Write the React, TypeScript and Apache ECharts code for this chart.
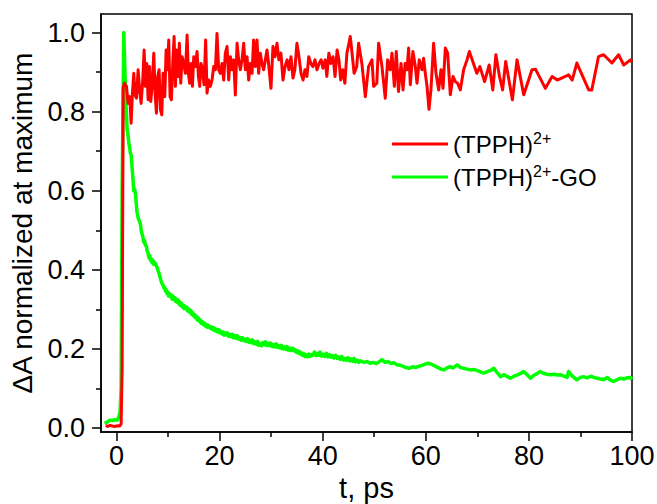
import React, { useEffect, useRef } from "react";
import * as echarts from "echarts";

const xMajorTicks = [0, 20, 40, 60, 80, 100];
const xMinorTicks = [10, 30, 50, 70, 90];
const yMajorTicks = [0, 0.2, 0.4, 0.6, 0.8, 1.0];
const yMinorTicks = [0.1, 0.3, 0.5, 0.7, 0.9];

const seriesNames = ["(TPPH)2+", "(TPPH)2+-GO"];

// (TPPH)2+ : [t (ps), normalized ΔA]
const redData = [
  [-2.1, 0.006], [-1.7, 0.004], [-1.2, 0.007], [-0.8, 0.005], [-0.3, 0.004], [0.2, 0.006], [0.6, 0.005], [0.9, 0.01], [1.1, 0.15], [1.3, 0.86],
  [1.55, 0.872], [1.94, 0.864], [2.26, 0.821], [2.58, 0.838], [2.84, 0.771], [3.1, 0.847], [3.36, 0.897], [3.62, 0.842], [3.88, 0.834], [4.2, 0.906],
  [4.52, 0.851], [4.78, 0.821], [5.1, 0.88], [5.36, 0.956], [5.62, 0.864], [5.88, 0.922], [6.14, 0.83], [6.4, 0.914], [6.65, 0.826], [6.91, 0.864],
  [7.24, 0.948], [7.49, 0.847], [7.75, 0.796], [8.0, 0.889], [8.27, 0.906], [8.53, 0.805], [8.79, 0.792], [9.04, 0.897], [9.37, 0.838], [9.63, 0.956],
  [9.88, 0.906], [10.14, 0.981], [10.4, 0.838], [10.66, 0.83], [10.92, 0.922], [11.18, 0.99], [11.43, 0.864], [11.69, 0.956], [11.95, 0.889], [12.2, 0.973],
  [12.47, 0.872], [12.73, 0.939], [13.05, 0.922], [13.37, 0.897], [13.7, 0.994], [13.95, 0.897], [14.2, 0.872], [14.47, 0.922], [14.73, 0.864], [14.99, 0.939],
  [15.3, 0.914], [15.63, 0.952], [15.9, 0.889], [16.15, 0.864], [16.4, 0.922], [16.67, 0.906], [16.99, 0.868], [17.3, 0.981], [17.57, 0.847], [17.9, 0.88],
  [18.2, 0.864], [18.54, 0.88], [18.86, 0.914], [19.19, 0.906], [19.5, 0.998], [19.83, 0.906], [20.15, 0.897], [20.48, 0.922], [20.8, 0.88], [21.12, 0.948],
  [21.45, 0.965], [21.77, 0.88], [22.1, 0.939], [22.42, 0.906], [22.74, 0.931], [23.06, 0.842], [23.39, 0.973], [23.7, 0.931], [24.03, 0.906], [24.35, 0.931],
  [24.68, 0.973], [25.0, 0.906], [25.32, 0.939], [25.65, 0.88], [25.97, 0.922], [26.3, 0.897], [26.6, 0.981], [26.94, 0.914], [27.26, 0.981], [27.58, 0.897],
  [27.9, 0.948], [28.23, 0.922], [28.55, 0.906], [28.88, 0.931], [29.2, 0.956], [29.5, 0.922], [29.97, 0.859], [30.36, 0.965], [30.75, 0.939], [31.14, 0.973],
  [31.5, 0.931], [31.9, 0.948], [32.3, 0.88], [32.7, 0.914], [33.1, 0.931], [33.46, 0.906], [33.85, 0.939], [34.24, 0.885], [34.6, 0.906], [35.0, 0.973],
  [35.4, 0.939], [35.8, 0.897], [36.2, 0.88], [36.56, 0.906], [36.95, 0.889], [37.3, 0.939], [37.7, 0.922], [38.1, 0.914], [38.5, 0.931], [38.9, 0.906],
  [39.3, 0.922], [39.7, 0.931], [40.05, 0.91], [40.5, 0.931], [40.8, 0.889], [41.2, 0.948], [41.6, 0.922], [42.0, 0.939], [42.4, 0.889], [42.8, 0.956],
  [43.15, 0.931], [43.5, 0.88], [43.9, 0.906], [44.3, 0.872], [44.7, 0.948], [45.1, 0.973], [45.35, 0.99], [45.7, 0.948], [46.1, 0.897], [46.6, 0.914],
  [46.97, 0.973], [47.6, 0.922], [48.27, 0.838], [48.9, 0.914], [49.56, 0.931], [49.88, 0.864], [50.5, 0.872], [50.85, 0.973], [51.5, 0.914], [52.14, 0.834],
  [52.6, 0.931], [53.1, 0.906], [53.44, 0.948], [53.9, 0.864], [54.28, 0.952], [54.7, 0.851], [55.2, 0.922], [55.58, 0.855], [56.0, 0.922], [56.36, 0.906],
  [56.67, 0.961], [57.0, 0.868], [57.5, 0.952], [57.97, 0.914], [58.3, 0.872], [58.74, 0.931], [59.26, 0.906], [59.58, 0.935], [59.9, 0.897], [60.24, 0.864],
  [60.62, 0.806], [61.0, 0.855], [61.52, 0.973], [61.98, 0.897], [62.5, 0.855], [62.95, 0.906], [63.34, 0.859], [63.79, 0.961], [64.24, 0.948], [64.76, 0.843],
  [65.28, 0.889], [65.73, 0.876], [66.18, 0.872], [66.7, 0.855], [67.34, 0.906], [68.0, 0.931], [68.45, 0.952],
  [69.9, 0.897], [70.5, 0.914], [71.4, 0.876], [72.3, 0.918], [73.0, 0.855], [73.6, 0.944], [74.3, 0.889], [74.9, 0.855], [75.5, 0.927], [76.8, 0.83],
  [77.7, 0.931], [79.0, 0.843], [80.6, 0.906], [81.3, 0.907], [83.2, 0.859], [84.5, 0.889], [85.5, 0.88], [87.7, 0.893], [88.4, 0.88], [89.3, 0.923],
  [91.6, 0.855], [92.2, 0.855], [93.5, 0.939], [94.5, 0.944], [96.1, 0.923], [97.4, 0.944], [98.4, 0.918], [99.7, 0.931], [100, 0.925],
];

// (TPPH)2+-GO : [t (ps), normalized ΔA]
const greenData = [
  [-2.3, 0.012], [-1.8, 0.015], [-1.3, 0.02], [-0.8, 0.019], [-0.3, 0.021], [0.2, 0.02], [0.5, 0.03], [0.7, 0.04], [0.9, 0.1], [1.1, 0.6],
  [1.42, 1.0], [1.6, 0.92], [1.75, 0.86], [1.9, 0.8], [2.07, 0.755], [2.25, 0.74], [2.4, 0.72], [2.55, 0.71], [2.7, 0.695], [2.85, 0.69],
  [3.0, 0.665], [3.2, 0.63], [3.36, 0.6], [3.5, 0.605], [3.7, 0.592], [3.85, 0.565], [4.0, 0.545], [4.15, 0.535], [4.3, 0.528], [4.5, 0.522],
  [4.65, 0.515], [4.8, 0.5], [4.97, 0.49], [5.15, 0.482], [5.3, 0.47], [5.45, 0.474], [5.6, 0.462], [5.8, 0.46], [5.94, 0.448], [6.1, 0.444],
  [6.3, 0.43], [6.45, 0.436], [6.6, 0.424], [6.75, 0.428], [6.9, 0.418], [7.05, 0.424], [7.2, 0.414], [7.35, 0.42], [7.5, 0.416], [7.7, 0.41],
  [7.9, 0.406], [8.05, 0.398], [8.2, 0.394], [8.35, 0.386], [8.5, 0.38], [8.65, 0.372], [8.8, 0.366], [9.0, 0.362], [9.2, 0.354], [9.35, 0.356],
  [9.5, 0.346], [9.65, 0.35], [9.8, 0.34], [9.95, 0.344], [10.1, 0.334], [10.3, 0.34], [10.5, 0.332], [10.65, 0.336], [10.8, 0.326], [10.95, 0.334],
  [11.1, 0.325], [11.3, 0.33], [11.5, 0.32], [11.65, 0.326], [11.8, 0.318], [11.95, 0.324], [12.1, 0.314], [12.3, 0.319], [12.4, 0.31], [12.6, 0.316],
  [12.8, 0.306], [12.95, 0.311], [13.1, 0.302], [13.3, 0.308], [13.5, 0.301], [13.65, 0.306], [13.8, 0.296], [14.0, 0.301], [14.2, 0.293], [14.4, 0.298],
  [14.6, 0.287], [14.8, 0.292], [15.0, 0.283], [15.15, 0.287], [15.3, 0.279], [15.5, 0.283], [15.7, 0.273], [15.85, 0.279], [16.0, 0.271], [16.2, 0.274],
  [16.4, 0.265], [16.6, 0.27], [16.8, 0.262], [17.0, 0.266], [17.2, 0.258], [17.4, 0.262], [17.6, 0.255], [17.8, 0.26], [18.0, 0.256], [18.2, 0.252],
  [18.4, 0.256], [18.65, 0.249], [18.9, 0.254], [19.1, 0.246], [19.3, 0.25], [19.55, 0.244], [19.8, 0.249], [20.0, 0.241], [20.2, 0.245], [20.45, 0.238],
  [20.7, 0.243], [20.9, 0.235], [21.1, 0.24], [21.3, 0.236], [21.5, 0.241], [21.75, 0.232], [22.0, 0.237], [22.25, 0.231], [22.5, 0.237], [22.7, 0.228],
  [22.9, 0.233], [23.15, 0.227], [23.4, 0.234], [23.65, 0.225], [23.9, 0.229], [24.15, 0.222], [24.4, 0.229], [24.65, 0.221], [24.9, 0.225], [25.15, 0.219],
  [25.4, 0.226], [25.65, 0.217], [25.9, 0.222], [26.15, 0.216], [26.4, 0.223], [26.65, 0.213], [26.9, 0.218], [27.15, 0.212], [27.4, 0.219], [27.65, 0.209],
  [27.9, 0.213], [28.15, 0.208], [28.4, 0.216], [28.65, 0.211], [28.9, 0.218], [29.15, 0.209], [29.4, 0.214], [29.65, 0.208], [29.9, 0.215], [30.2, 0.206],
  [30.5, 0.211], [30.75, 0.205], [31.0, 0.213], [31.25, 0.204], [31.5, 0.208], [31.75, 0.202], [32.0, 0.209], [32.3, 0.2], [32.6, 0.205], [32.85, 0.199],
  [33.1, 0.206], [33.35, 0.197], [33.6, 0.202], [33.9, 0.196], [34.2, 0.202], [34.45, 0.195], [34.7, 0.198], [34.95, 0.191], [35.2, 0.195], [35.45, 0.188],
  [35.7, 0.192], [36.0, 0.184], [36.3, 0.189], [36.55, 0.181], [36.8, 0.185], [37.05, 0.18], [37.3, 0.187], [37.55, 0.181], [37.8, 0.186], [38.1, 0.184],
  [38.4, 0.192], [38.7, 0.183], [39.0, 0.189], [39.25, 0.184], [39.5, 0.192], [39.8, 0.182], [40.1, 0.187], [40.4, 0.181], [40.7, 0.189], [41.0, 0.18],
  [41.3, 0.186], [41.6, 0.179], [41.9, 0.183], [42.2, 0.177], [42.5, 0.184], [42.8, 0.176], [43.1, 0.18], [43.4, 0.174], [43.7, 0.181], [44.0, 0.172],
  [44.3, 0.176], [44.6, 0.171], [44.9, 0.178], [45.2, 0.17], [45.5, 0.175], [45.8, 0.169], [46.1, 0.176], [46.4, 0.167], [46.7, 0.172], [47.0, 0.166],
  [47.3, 0.17], [48.0, 0.166], [48.6, 0.168], [49.2, 0.164], [49.8, 0.166], [50.4, 0.163], [51.0, 0.168], [51.5, 0.173], [52.1, 0.166], [52.7, 0.168],
  [53.3, 0.163], [53.8, 0.165], [54.4, 0.16], [55.0, 0.159], [55.6, 0.156], [56.2, 0.153], [56.8, 0.151], [57.4, 0.155], [58.0, 0.153], [58.6, 0.156],
  [59.2, 0.158], [59.8, 0.161], [60.4, 0.164], [61.0, 0.162], [61.6, 0.158], [62.2, 0.154], [62.8, 0.15], [63.5, 0.147], [64.1, 0.152], [64.7, 0.155],
  [65.3, 0.152], [66.1, 0.16], [66.7, 0.153], [67.4, 0.151], [68.0, 0.149], [68.7, 0.147], [69.4, 0.148], [70.0, 0.145], [70.6, 0.142], [71.2, 0.139],
  [71.8, 0.142], [72.5, 0.145], [73.2, 0.151], [73.8, 0.141], [74.5, 0.13], [75.2, 0.135], [75.8, 0.13], [76.4, 0.126], [77.1, 0.131], [77.7, 0.134],
  [78.4, 0.138], [79.0, 0.143], [79.7, 0.134], [80.3, 0.126], [80.9, 0.133], [81.5, 0.137], [82.2, 0.143], [82.9, 0.138], [83.5, 0.136], [84.2, 0.135],
  [84.9, 0.136], [85.5, 0.134], [86.1, 0.135], [86.8, 0.131], [87.4, 0.128], [87.7, 0.143], [88.3, 0.133], [89.3, 0.122], [90.0, 0.128], [90.6, 0.13],
  [91.3, 0.127], [92.0, 0.131], [92.6, 0.128], [93.2, 0.126], [93.9, 0.124], [94.5, 0.122], [95.2, 0.128], [95.8, 0.121], [96.4, 0.118], [97.1, 0.122],
  [97.7, 0.126], [98.4, 0.124], [99.0, 0.127], [99.7, 0.128], [100, 0.123],
];

const FONT = "'Liberation Sans', Arial, sans-serif";

export default function App() {
  const ref = useRef<HTMLDivElement>(null);
  useEffect(() => {
    if (!ref.current) return;
    const chart = echarts.init(ref.current, undefined, { renderer: "svg" });
    const axisLineStyle = { color: "#000", width: 1.5 };
    chart.setOption({
      animation: false,
      backgroundColor: "#fff",
      textStyle: { fontFamily: FONT },
      grid: {
        left: 101,
        right: 25,
        top: 14,
        bottom: 72,
        show: true,
        borderColor: "#000",
        borderWidth: 1.5,
        backgroundColor: "transparent",
        containLabel: false,
        outerBoundsMode: "none",
      },
      legend: {
        orient: "vertical",
        left: 392,
        top: 130,
        padding: 0,
        itemGap: 5,
        itemWidth: 56,
        itemHeight: 3,
        icon: "rect",
        data: seriesNames,
        formatter: (name: string) => name.replace("2+", "{sup|2+}"),
        textStyle: {
          fontFamily: FONT,
          fontSize: 24,
          color: "#000",
          lineHeight: 28,
          rich: {
            sup: { fontFamily: FONT, fontSize: 16, color: "#000", verticalAlign: "top", lineHeight: 17 },
          },
        },
      },
      xAxis: [
        {
          type: "value",
          min: -3,
          max: 100,
          position: "bottom",
          name: "t, ps",
          nameLocation: "middle",
          nameGap: 40,
          nameTextStyle: { fontFamily: FONT, fontSize: 29, color: "#000" },
          axisLine: { show: true, onZero: false, lineStyle: axisLineStyle },
          axisTick: { show: true, inside: false, length: 9, customValues: xMajorTicks, lineStyle: axisLineStyle },
          axisLabel: { show: true, customValues: xMajorTicks, fontFamily: FONT, fontSize: 27, color: "#000", margin: 10 },
          splitLine: { show: false },
        },
        {
          type: "value",
          min: -3,
          max: 100,
          position: "bottom",
          axisLine: { show: false, onZero: false },
          axisTick: { show: true, inside: false, length: 5, customValues: xMinorTicks, lineStyle: axisLineStyle },
          axisLabel: { show: false },
          splitLine: { show: false },
        },
      ],
      yAxis: [
        {
          type: "value",
          min: -0.01,
          max: 1.047,
          position: "left",
          name: "\u0394A normalized at maximum",
          nameLocation: "middle",
          nameGap: 62,
          nameTextStyle: { fontFamily: FONT, fontSize: 28, color: "#000" },
          axisLine: { show: true, onZero: false, lineStyle: axisLineStyle },
          axisTick: { show: true, inside: false, length: 9, customValues: yMajorTicks, lineStyle: axisLineStyle },
          axisLabel: {
            show: true,
            customValues: yMajorTicks,
            formatter: (v: number) => v.toFixed(1),
            fontFamily: FONT,
            fontSize: 27,
            color: "#000",
            margin: 16,
          },
          splitLine: { show: false },
        },
        {
          type: "value",
          min: -0.01,
          max: 1.047,
          position: "left",
          axisLine: { show: false, onZero: false },
          axisTick: { show: true, inside: false, length: 5, customValues: yMinorTicks, lineStyle: axisLineStyle },
          axisLabel: { show: false },
          splitLine: { show: false },
        },
      ],
      series: [
        {
          name: seriesNames[1],
          type: "line",
          xAxisIndex: 0,
          yAxisIndex: 0,
          data: greenData,
          showSymbol: false,
          symbol: "none",
          color: "#00ff00",
          lineStyle: { color: "#00ff00", width: 3.5, join: "round" },
        },
        {
          name: seriesNames[0],
          type: "line",
          xAxisIndex: 0,
          yAxisIndex: 0,
          data: redData,
          showSymbol: false,
          symbol: "none",
          color: "#ff0000",
          lineStyle: { color: "#ff0000", width: 3, join: "round" },
        },
      ],
    });
    return () => chart.dispose();
  }, []);
  return (
    <div
      ref={ref}
      style={{ position: "absolute", left: 0, top: 0, width: 657, height: 504, background: "#fff" }}
    />
  );
}
